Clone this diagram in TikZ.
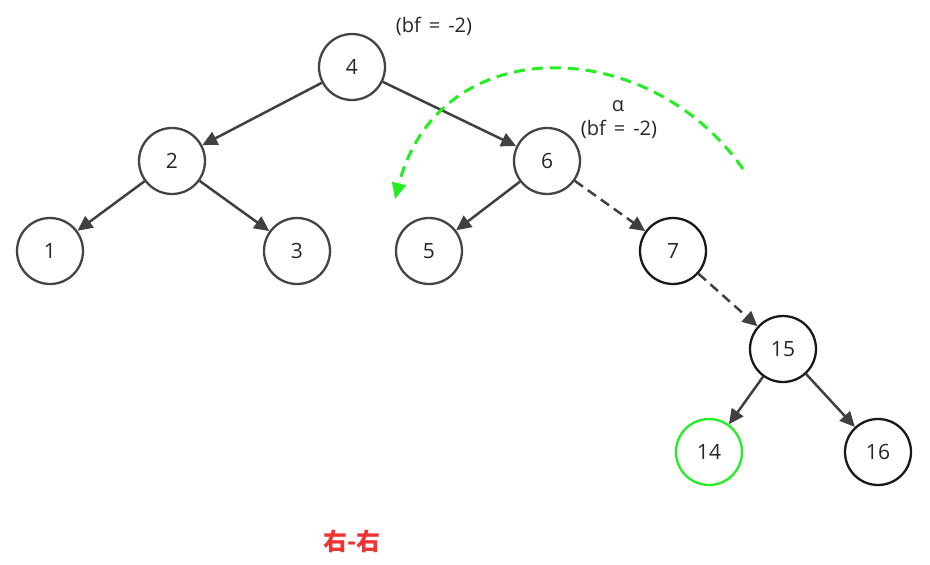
\documentclass[tikz,border=0pt]{standalone}
\usepackage{fontspec}
\setmainfont{Open Sans}
\newfontfamily\cjk{Noto Sans CJK SC}
\usetikzlibrary{arrows.meta}
\definecolor{edgegray}{HTML}{404040}
\definecolor{nodegray}{HTML}{444444}
\definecolor{hlgreen}{HTML}{22EE22}
\definecolor{titlered}{HTML}{EE3333}
\tikzset{
  treenode/.style={circle, draw=nodegray, line width=2.3pt, minimum size=66pt, inner sep=0pt, font=\fontsize{21}{24}\selectfont, text=black!85},
  darknode/.style={treenode, draw=black!90},
  greennode/.style={treenode, draw=hlgreen},
  edge/.style={draw=edgegray, line width=2.5pt, -{Triangle[length=15pt, width=14pt]}},
  dashededge/.style={edge, dash pattern=on 10pt off 6pt},
  lbl/.style={font=\fontsize{20}{23}\selectfont, text=black!85, inner sep=0pt},
  rotarrow/.style={draw=hlgreen, line width=3pt, dash pattern=on 11pt off 7pt, -{Triangle[length=16pt, width=14pt]}}
}
\newcommand{\wsp}{\hspace{0.4em}}
\begin{document}
\begin{tikzpicture}[x=1pt, y=-1pt]
\useasboundingbox (0,0) rectangle (930,565);
\node[treenode] (n4) at (352,67) {4};
\node[treenode] (n2) at (172,161) {2};
\node[treenode] (n6) at (547,161) {6};
\node[treenode] (n1) at (50,251) {1};
\node[treenode] (n3) at (297,251) {3};
\node[treenode] (n5) at (429,251) {5};
\node[darknode] (n7) at (673,251) {7};
\node[darknode] (n15) at (783,349) {15};
\node[greennode] (n14) at (709,452) {14};
\node[darknode] (n16) at (878,452) {16};

\node[lbl] (bf4) at (434,26) {(bf\wsp=\wsp-2)};
\node[lbl] (alpha) at (618,106) {α};
\node[lbl] (bf6) at (619,129) {(bf\wsp=\wsp-2)};

\draw[edge] (n4) -- (n2);
\draw[edge] (n4) -- (n6);
\draw[edge] (n2) -- (n1);
\draw[edge] (n2) -- (n3);
\draw[edge] (n6) -- (n5);
\draw[dashededge] (n6) -- (n7);
\draw[dashededge] (n7) -- (n15);
\draw[edge] (n15) -- (n14);
\draw[edge] (n15) -- (n16);

\coordinate (rotstart) at (743,169);
\coordinate (rotend) at (395,199);
\draw[rotarrow] (rotstart) .. controls (650,35) and (440,28) .. (rotend);

\node[font=\cjk\bfseries\fontsize{24}{27}\selectfont, text=titlered] (title) at (352,541) {右-右};
\end{tikzpicture}
\end{document}
